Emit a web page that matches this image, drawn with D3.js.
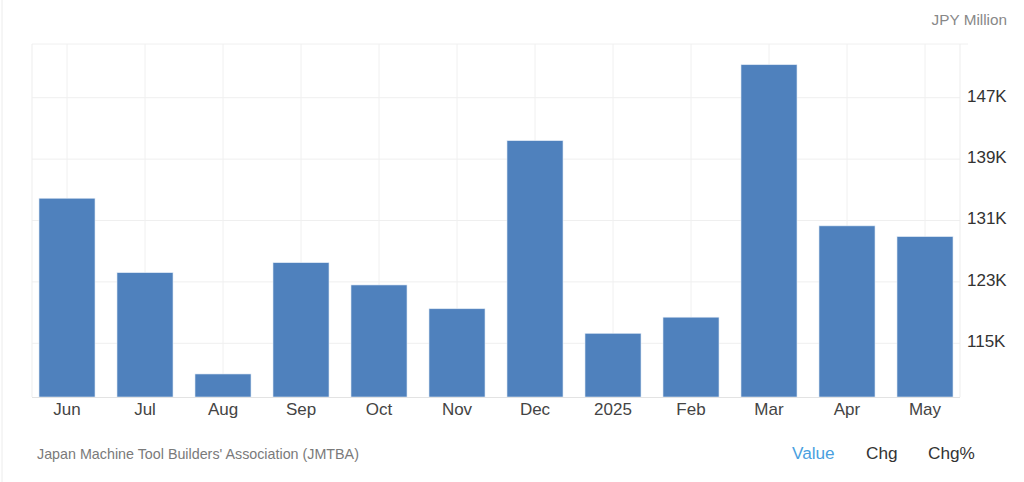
<!DOCTYPE html>
<html>
<head>
<meta charset="utf-8">
<script src="https://cdn.jsdelivr.net/npm/d3@7"></script>
<style>
  html, body { margin: 0; padding: 0; background: #fff; }
  svg { display: block; font-family: Arial, "Liberation Sans", sans-serif; }
</style>
</head>
<body>
<svg id="chart" width="1024" height="482"></svg>
<script>
const categories = ["Jun", "Jul", "Aug", "Sep", "Oct", "Nov", "Dec", "2025", "Feb", "Mar", "Apr", "May"];
const values = [133.9, 124.2, 111.0, 125.5, 122.6, 119.5, 141.4, 116.3, 118.4, 151.3, 130.3, 128.9];
const yTicks = [115, 123, 131, 139, 147];
const yDomain = [108, 154];
const unitLabel = "JPY Million";
const sourceLabel = "Japan Machine Tool Builders' Association (JMTBA)";
const legendItems = ["Value", "Chg", "Chg%"];

(function () {
const svg = d3.select("#chart");
const pL = 32, pR = 960, pT = 44, pB = 397;

const x = d3.scaleBand().domain(categories).range([28, 964]).paddingInner(0.282).paddingOuter(0.141);
const y = d3.scaleLinear().domain(yDomain).range([pB, pT]);

// page left border
svg.append("line").attr("x1", 2).attr("x2", 2).attr("y1", 0).attr("y2", 482)
  .attr("stroke", "#ececec").attr("stroke-width", 1);

// horizontal gridlines
svg.append("g").selectAll("line").data(yTicks).join("line")
  .attr("x1", pL).attr("x2", pR)
  .attr("y1", d => y(d)).attr("y2", d => y(d))
  .attr("stroke", "#efefef").attr("stroke-width", 1);
// top line
svg.append("line").attr("x1", pL).attr("x2", pR + 8).attr("y1", pT).attr("y2", pT)
  .attr("stroke", "#f0f0f0");
// vertical gridlines at category centers
svg.append("g").selectAll("line").data(categories).join("line")
  .attr("x1", d => x(d) + x.bandwidth() / 2).attr("x2", d => x(d) + x.bandwidth() / 2)
  .attr("y1", pT).attr("y2", pB)
  .attr("stroke", "#f0f0f0").attr("stroke-width", 1);
// plot edges
svg.append("line").attr("x1", pL).attr("x2", pL).attr("y1", pT).attr("y2", pB).attr("stroke", "#ededed");
svg.append("line").attr("x1", pR).attr("x2", pR).attr("y1", pT).attr("y2", pB).attr("stroke", "#ededed");

// bars
svg.append("g").selectAll("rect").data(values).join("rect")
  .attr("x", (d, i) => x(categories[i]))
  .attr("width", x.bandwidth())
  .attr("y", d => y(d))
  .attr("height", d => pB - y(d))
  .attr("fill", "#4f81bd")
  .attr("stroke", "#dfe9f5").attr("stroke-width", 0.6);

// baseline
svg.append("line").attr("x1", pL).attr("x2", pR).attr("y1", pB + 0.5).attr("y2", pB + 0.5)
  .attr("stroke", "#e3e3e3");

// x axis labels
const xAxis = d3.axisBottom(x).tickSize(0).tickPadding(6);
const gx = svg.append("g").attr("transform", `translate(0,${pB})`).call(xAxis);
gx.select(".domain").remove();
gx.selectAll("text").attr("font-size", 17).attr("fill", "#444").attr("font-family", "Arial, 'Liberation Sans', sans-serif");

// y axis labels
const yAxis = d3.axisRight(y).tickValues(yTicks).tickSize(0).tickPadding(0).tickFormat(d => d + "K");
const gy = svg.append("g").attr("transform", `translate(967,-2)`).call(yAxis);
gy.select(".domain").remove();
gy.selectAll("text").attr("font-size", 17).attr("fill", "#333").attr("font-family", "Arial, 'Liberation Sans', sans-serif");

// unit label
svg.append("text").attr("x", 1007).attr("y", 25).attr("text-anchor", "end")
  .attr("font-size", 15.3).attr("fill", "#888").text(unitLabel);

// source
svg.append("text").attr("x", 37).attr("y", 459)
  .attr("font-size", 14.3).attr("fill", "#7a7a7a").text(sourceLabel);

// legend
const legendX = [792, 866, 928];
svg.append("g").selectAll("text").data(legendItems).join("text")
  .attr("x", (d, i) => legendX[i]).attr("y", 459)
  .attr("font-size", 17.2)
  .attr("fill", (d, i) => i === 0 ? "#4a9fe0" : "#333")
  .text(d => d);
})();
</script>
</body>
</html>
